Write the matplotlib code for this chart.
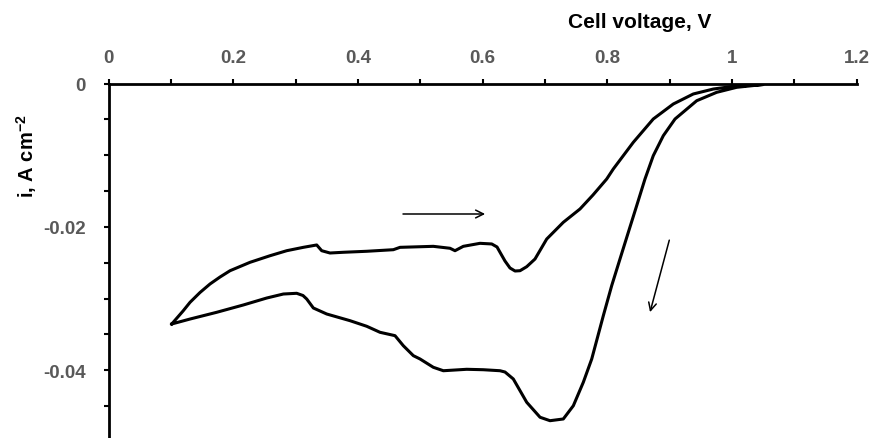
import matplotlib
matplotlib.use("Agg")
import matplotlib.pyplot as plt
from matplotlib.ticker import MultipleLocator, FuncFormatter

plt.rcParams['font.family'] = ['Liberation Sans', 'DejaVu Sans']
plt.rcParams['font.weight'] = 'bold'
plt.rcParams['mathtext.fontset'] = 'custom'
plt.rcParams['mathtext.rm'] = 'Liberation Sans:bold'
plt.rcParams['mathtext.bf'] = 'Liberation Sans:bold'
plt.rcParams['mathtext.default'] = 'rm'

# voltammogram: forward (upper) branch, then return branch
v_fwd = [0.1014, 0.1195, 0.1307, 0.1467, 0.1628, 0.1788, 0.1949, 0.2269, 0.2590,
         0.2858, 0.3124, 0.3339, 0.3419, 0.3552, 0.3766, 0.4141, 0.4568, 0.4675,
         0.5209, 0.5477, 0.5557, 0.5690, 0.5958, 0.6146, 0.6231, 0.6279, 0.6359,
         0.6439, 0.6520, 0.6600, 0.6707, 0.6840, 0.7028, 0.7294, 0.7562, 0.7770,
         0.7990, 0.8096, 0.8417, 0.8737, 0.9058, 0.9379, 0.9700, 1.0021, 1.0502]
i_fwd = [-0.03354, -0.03173, -0.03052, -0.02915, -0.02796, -0.02699, -0.02611,
         -0.02494, -0.02402, -0.02332, -0.02285, -0.02252, -0.02332, -0.02364,
         -0.02354, -0.02340, -0.02318, -0.02285, -0.02271, -0.02298, -0.02332,
         -0.02271, -0.02229, -0.02238, -0.02280, -0.02354, -0.02476, -0.02573,
         -0.02615, -0.02611, -0.02555, -0.02448, -0.02169, -0.01936, -0.01750,
         -0.01555, -0.01332, -0.01192, -0.00820, -0.00495, -0.00286, -0.00146,
         -0.00077, -0.00039, -0.00014]

v_rev = [1.0502, 1.0075, 0.9754, 0.9434, 0.9086, 0.8898, 0.8737, 0.8604, 0.8471,
         0.8337, 0.8203, 0.8070, 0.7936, 0.7750, 0.7615, 0.7455, 0.7294, 0.7081,
         0.6921, 0.6707, 0.6492, 0.6359, 0.6279, 0.6011, 0.5745, 0.5370, 0.5209,
         0.4996, 0.4889, 0.4728, 0.4595, 0.4354, 0.4141, 0.3873, 0.3500, 0.3285,
         0.3179, 0.3119, 0.3018, 0.2804, 0.2537, 0.2162, 0.1735, 0.1307, 0.1014]
i_rev = [-0.00014, -0.00053, -0.00123, -0.00240, -0.00495, -0.00728, -0.01007,
         -0.01332, -0.01704, -0.02075, -0.02448, -0.02820, -0.03238, -0.03842,
         -0.04167, -0.04494, -0.04679, -0.04703, -0.04655, -0.04446, -0.04121,
         -0.04024, -0.04006, -0.03992, -0.03986, -0.04006, -0.03958, -0.03842,
         -0.03796, -0.03657, -0.03517, -0.03470, -0.03386, -0.03308, -0.03215,
         -0.03131, -0.03006, -0.02957, -0.02926, -0.02936, -0.02992, -0.03089,
         -0.03191, -0.03285, -0.03354]

# scan direction arrows (start, end)
arrow_fwd = ((0.4723, -0.0182), (0.6040, -0.0182))
arrow_rev = ((0.8994, -0.02185), (0.8685, -0.03189))

fig = plt.figure(figsize=(8.71, 4.39), dpi=100)
ax = fig.add_axes([0.1246, -0.0091, 0.859, 0.8166])

ax.plot(v_fwd + v_rev, i_fwd + i_rev, color='black', lw=2.2, solid_joinstyle='round')

for (x0, y0), (x1, y1) in (arrow_fwd, arrow_rev):
    ax.annotate('', xy=(x1, y1), xytext=(x0, y0),
                arrowprops=dict(arrowstyle='->', lw=1.1, color='black', mutation_scale=14,
                                shrinkA=0, shrinkB=0))

ax.set_xlim(0, 1.2)
ax.set_ylim(-0.05, 0)

ax.spines['right'].set_visible(False)
ax.spines['bottom'].set_visible(False)
ax.spines['top'].set_linewidth(2)
ax.spines['left'].set_linewidth(2)

ax.xaxis.tick_top()
ax.xaxis.set_major_locator(MultipleLocator(0.2))
ax.xaxis.set_minor_locator(MultipleLocator(0.1))
ax.yaxis.set_major_locator(MultipleLocator(0.02))
ax.yaxis.set_minor_locator(MultipleLocator(0.005))
fmt = FuncFormatter(lambda v, p: '%g' % round(v, 4))
ax.xaxis.set_major_formatter(fmt)
ax.yaxis.set_major_formatter(fmt)

ax.tick_params(which='both', direction='out', length=3.5, width=1.5, color='black')
ax.tick_params(axis='x', which='major', labelsize=13.5, labelcolor='#595959', pad=9)
ax.tick_params(axis='y', which='major', labelsize=13.5, labelcolor='#595959', pad=13)
for lab in ax.get_xticklabels() + ax.get_yticklabels():
    lab.set_fontweight('bold')

fig.text(0.735, 0.9355, 'Cell voltage, V', ha='center', va='baseline',
         fontsize=15, fontweight='bold', color='black')
fig.text(0.031, 0.6447, r'i, A cm$^{-2}$', ha='center', va='center', rotation=90,
         fontsize=14.5, fontweight='bold', color='black')

fig.savefig('out.png', dpi=100)
